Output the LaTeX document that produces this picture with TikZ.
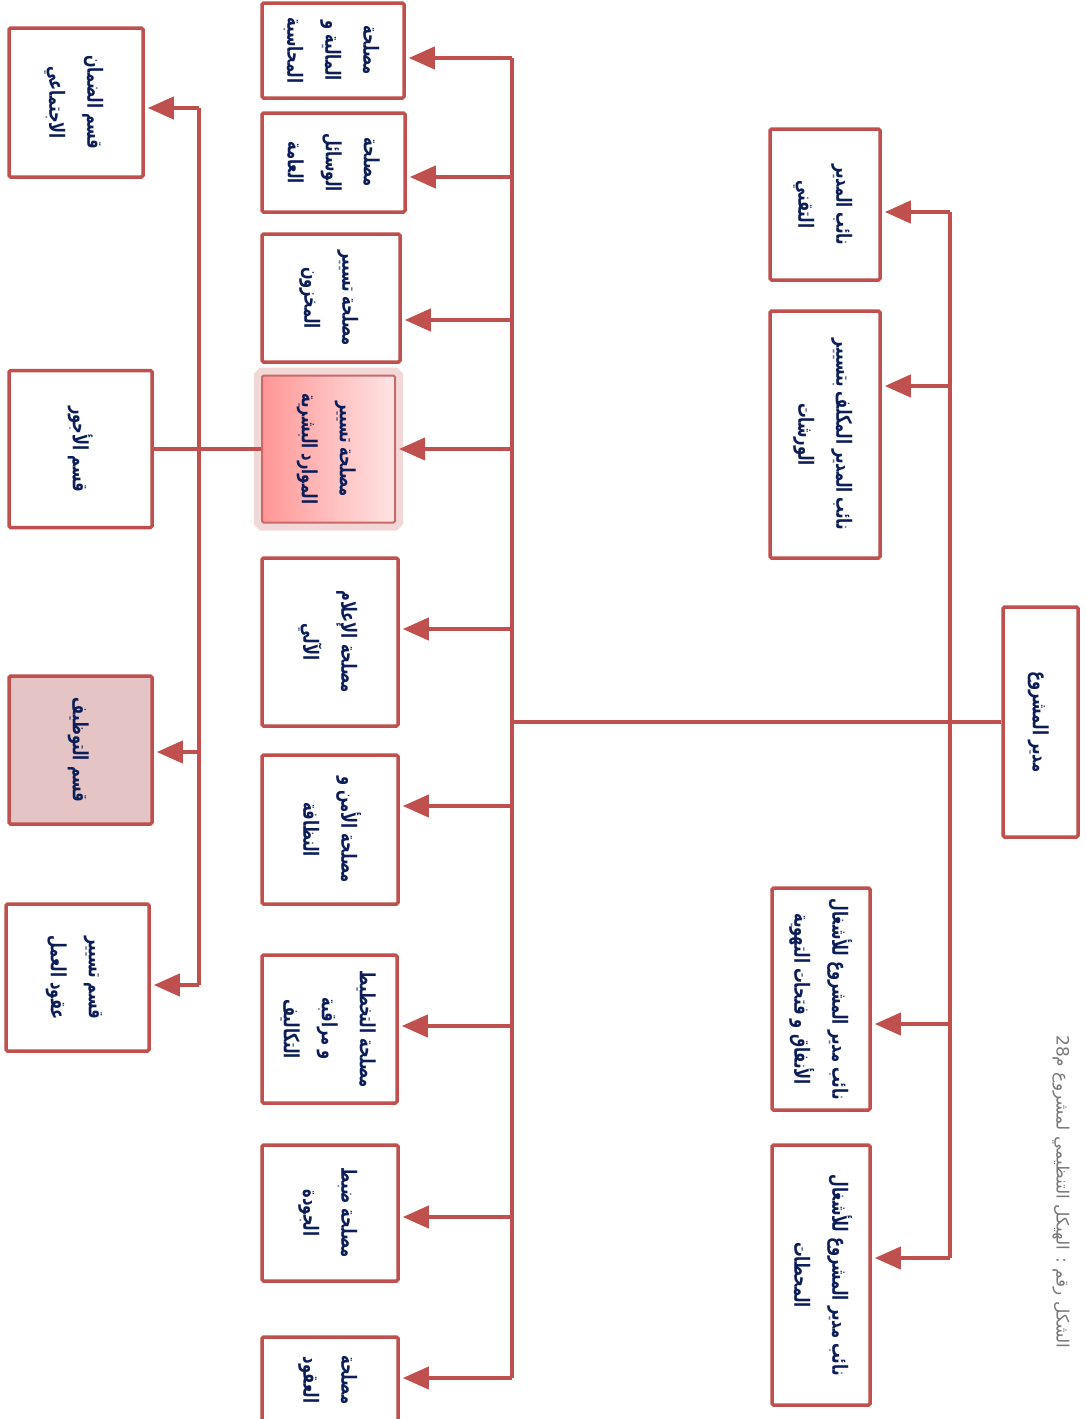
\documentclass[tikz,border=0pt]{standalone}
\usepackage{fontspec}
\usepackage{graphicx}
\TeXXeTstate=1
\newfontfamily\arabicfont[Script=Arabic]{DejaVu Sans}
\usetikzlibrary{arrows.meta}
\definecolor{boxred}{RGB}{192,80,77}
\definecolor{navy}{RGB}{12,30,88}
\definecolor{pinkfill}{RGB}{228,196,196}
\definecolor{capgray}{RGB}{120,120,120}
\newcommand{\arl}[1]{\beginR #1\endR}
\newcommand{\rt}[1]{\rotatebox{-90}{\scalebox{0.7}[1]{\arabicfont\bfseries\fontsize{21}{38}\selectfont\begin{tabular}{@{}c@{}}#1\end{tabular}}}}
\tikzset{
  box/.style={draw=boxred, line width=3.5pt, fill=white, rounded corners=1.5pt, inner sep=0pt, text=navy},
  conn/.style={draw=boxred, line width=4pt},
  arr/.style={conn, -{Triangle[length=26pt,width=22pt]}, shorten >=3pt}
}
\begin{document}
\begin{tikzpicture}[x=1pt,y=-1pt]
\useasboundingbox (0,0) rectangle (1086,1419);
\clip (0,0) rectangle (1086,1419);
\fill[white] (0,0) rectangle (1086,1419);

% right column
\node[box, minimum width=110pt, minimum height=151pt] (R1) at (825,204.5) {\rt{\arl{نائب المدير}\\ \arl{التقني}}};
\node[box, minimum width=110pt, minimum height=247pt] (R2) at (825,434.5) {\rt{\arl{نائب المدير المكلف بتسيير}\\ \arl{الورشات}}};
\node[box, minimum width=75pt, minimum height=230pt] (D) at (1040.5,722) {\rt{\arl{مدير المشروع}}};
\node[box, minimum width=98pt, minimum height=222pt] (R3) at (821,999) {\rt{\arl{نائب مدير المشروع للأشغال}\\ \arl{الأنفاق و فتحات التهوية}}};
\node[box, minimum width=98pt, minimum height=260pt] (R4) at (821,1275) {\rt{\arl{نائب مدير المشروع للأشغال}\\ \arl{المحطات}}};

% middle column
\node[box, minimum width=142pt, minimum height=95pt] (M1) at (333,50.5) {\rt{\arl{مصلحة}\\ \arl{المالية و}\\ \arl{المحاسبة}}};
\node[box, minimum width=143pt, minimum height=99pt] (M2) at (333.5,162.5) {\rt{\arl{مصلحة}\\ \arl{الوسائل}\\ \arl{العامة}}};
\node[box, minimum width=138pt, minimum height=128pt] (M3) at (331,298) {\rt{\arl{مصلحة تسيير}\\ \arl{المخزون}}};
\node[box, draw=boxred!85, line width=2pt, left color={rgb,255:red,255;green,150;blue,150}, right color={rgb,255:red,255;green,228;blue,228},
      preaction={draw=boxred, draw opacity=0.22, line width=16pt}, minimum width=133pt, minimum height=147pt] (M4) at (328.5,449) {\rt{\arl{مصلحة تسيير}\\ \arl{الموارد البشرية}}};
\node[box, minimum width=136pt, minimum height=168pt] (M5) at (330,642) {\rt{\arl{مصلحة الإعلام}\\ \arl{الآلي}}};
\node[box, minimum width=136pt, minimum height=149pt] (M6) at (330,829.5) {\rt{\arl{مصلحة الأمن و}\\ \arl{النظافة}}};
\node[box, minimum width=135pt, minimum height=148pt] (M7) at (329.5,1029) {\rt{\arl{مصلحة التخطيط}\\ \arl{و مراقبة}\\ \arl{التكاليف}}};
\node[box, minimum width=136pt, minimum height=136pt] (M8) at (330,1213) {\rt{\arl{مصلحة ضبط}\\ \arl{الجودة}}};
\node[box, minimum width=136pt, minimum height=86pt] (M9) at (330,1380) {\rt{\arl{مصلحة}\\ \arl{العقود}}};

% left column
\node[box, minimum width=134pt, minimum height=149pt] (L1) at (76,102.5) {\rt{\arl{قسم الضمان}\\ \arl{الاجتماعي}}};
\node[box, minimum width=143pt, minimum height=157pt] (L2) at (80.5,449) {\rt{\arl{قسم الأجور}}};
\node[box, fill=pinkfill, minimum width=143pt, minimum height=148pt] (L3) at (80.5,750) {\rt{\arl{قسم التوظيف}}};
\node[box, minimum width=143pt, minimum height=147pt] (L4) at (77.5,977.5) {\rt{\arl{قسم تسيير}\\ \arl{عقود العمل}}};

% caption
\node[text=capgray, inner sep=0pt] (cap) at (1061,1192) {\rotatebox{-90}{\arabicfont\fontsize{17}{20}\selectfont\beginR الشكل رقم : الهيكل التنظيمي لمشروع م\beginL 28\endL\endR}};

% connectors: director and main spine
\coordinate (m1) at (512,58);
\coordinate (m2) at (512,177);
\coordinate (m3) at (512,320);
\coordinate (m4) at (512,449);
\coordinate (m5) at (512,629);
\coordinate (m6) at (512,806);
\coordinate (m7) at (512,1026);
\coordinate (m8) at (512,1217);
\coordinate (m9) at (512,1378);
\draw[conn] (D.west) -- (D.west -| m1);
\draw[conn] (m1) -- (m9);
\foreach \i in {1,...,9} { \draw[arr] (m\i) -- (m\i -| M\i.east); }

% right spine
\coordinate (r1) at (950,212);
\coordinate (r2) at (950,386);
\coordinate (r3) at (950,1024);
\coordinate (r4) at (950,1258);
\draw[conn] (r1) -- (r4);
\foreach \i in {1,...,4} { \draw[arr] (r\i) -- (r\i -| R\i.east); }

% left spine
\coordinate (l1) at (199,108);
\coordinate (l3) at (199,752);
\coordinate (l4) at (199,985);
\draw[conn] (M4.west) -- (L2.east);
\draw[conn] (l1) -- (l4);
\draw[arr] (l1) -- (l1 -| L1.east);
\draw[arr] (l3) -- (l3 -| L3.east);
\draw[arr] (l4) -- (l4 -| L4.east);
\end{tikzpicture}
\end{document}
